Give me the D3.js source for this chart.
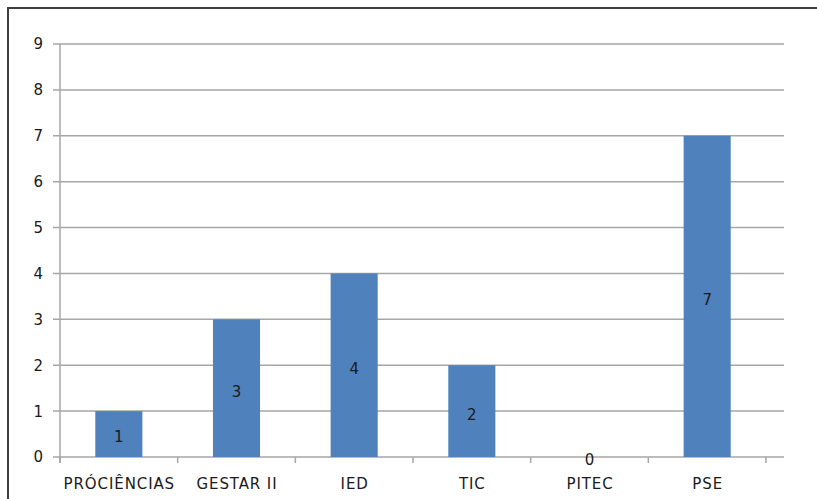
<!DOCTYPE html>
<html>
<head>
<meta charset="utf-8">
<script src="https://cdn.jsdelivr.net/npm/d3@7"></script>
<style>
  body { margin: 0; background: #fff; }
  svg { display: block; }
  text { font-family: "DejaVu Sans", Verdana, sans-serif; fill: #1a1a1a; }
</style>
</head>
<body>
<svg id="chart" width="817" height="499"></svg>
<script>
const categories = ['PRÓCIÊNCIAS', 'GESTAR II', 'IED', 'TIC', 'PITEC', 'PSE']
const values = [1, 3, 4, 2, 0, 7]
const yTicks = [0, 1, 2, 3, 4, 5, 6, 7, 8, 9]

const svg = d3.select('#chart')

// moldura do gráfico
svg.append('rect')
  .attr('x', 8).attr('y', 8)
  .attr('width', 830).attr('height', 520)
  .attr('fill', 'none')
  .attr('stroke', '#3f3f3f')
  .attr('stroke-width', 2)

const x = d3.scaleBand().domain(categories).range([60, 766]).paddingInner(0).paddingOuter(0)
const y = d3.scaleLinear().domain([0, 9]).range([457, 44])
const xEnd = 784 // linhas de grade vão um pouco além

// linhas de grade
svg.append('g')
  .selectAll('line')
  .data(yTicks)
  .join('line')
  .attr('x1', 53).attr('x2', xEnd)
  .attr('y1', d => y(d)).attr('y2', d => y(d))
  .attr('stroke', '#a6a6a6')
  .attr('stroke-width', 1.5)

// eixo y
svg.append('line')
  .attr('x1', 60).attr('x2', 60)
  .attr('y1', y(9)).attr('y2', 463)
  .attr('stroke', '#a6a6a6').attr('stroke-width', 1.5)

svg.append('g')
  .selectAll('text')
  .data(yTicks)
  .join('text')
  .attr('x', 43)
  .attr('y', d => y(d))
  .attr('dy', '0.36em')
  .attr('text-anchor', 'end')
  .style('font-size', '15px')
  .text(d => d)

// marcas do eixo x
const edges = categories.map(c => x(c)).concat([x(categories[5]) + x.bandwidth()])
svg.append('g')
  .selectAll('line')
  .data(edges)
  .join('line')
  .attr('x1', d => d).attr('x2', d => d)
  .attr('y1', 457).attr('y2', 463)
  .attr('stroke', '#a6a6a6').attr('stroke-width', 1.5)

// barras
const bw = x.bandwidth() * 0.4
svg.append('g')
  .selectAll('rect')
  .data(values)
  .join('rect')
  .attr('x', (d, i) => x(categories[i]) + x.bandwidth() / 2 - bw / 2)
  .attr('y', d => y(d))
  .attr('width', bw)
  .attr('height', d => y(0) - y(d))
  .attr('fill', '#4f81bd')

// rótulos de dados
svg.append('g')
  .selectAll('text')
  .data(values)
  .join('text')
  .attr('x', (d, i) => x(categories[i]) + x.bandwidth() / 2)
  .attr('y', d => (y(d) + y(0)) / 2 + 3)
  .attr('dy', '0.36em')
  .attr('text-anchor', 'middle')
  .style('font-size', '15px')
  .text(d => d)

// rótulos das categorias
svg.append('g')
  .selectAll('text')
  .data(categories)
  .join('text')
  .attr('x', d => x(d) + x.bandwidth() / 2 + 0.5)
  .attr('y', 484)
  .attr('dy', '0.36em')
  .attr('text-anchor', 'middle')
  .style('font-size', '15px')
  .style('letter-spacing', '0.9px')
  .text(d => d)
</script>
</body>
</html>
